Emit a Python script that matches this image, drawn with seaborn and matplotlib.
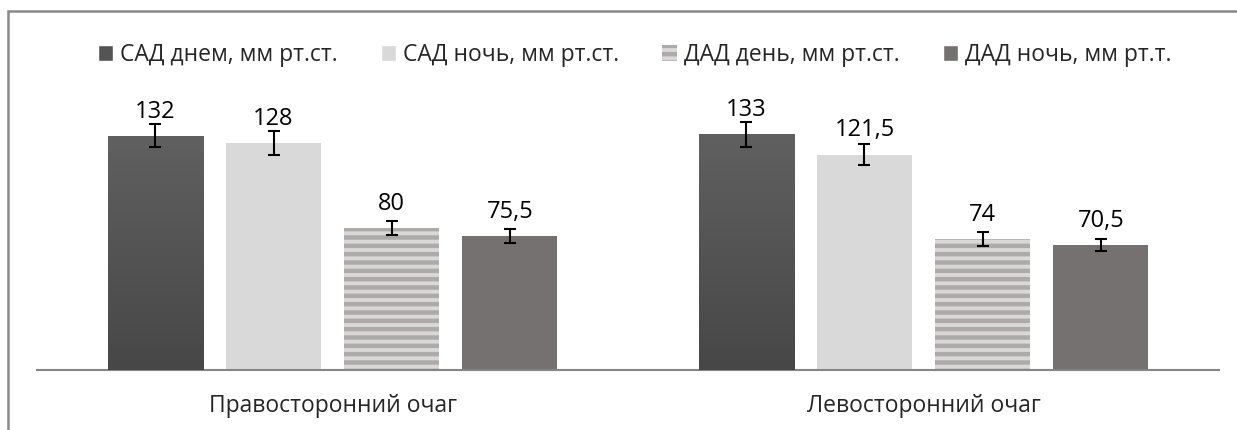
import numpy as np
import pandas as pd
import matplotlib
matplotlib.use("Agg")
import matplotlib.pyplot as plt
import seaborn as sns
from matplotlib.patches import Rectangle, Patch

# данные с графика
groups = ["Правосторонний очаг", "Левосторонний очаг"]
series = ["САД днем, мм рт.ст.", "САД ночь, мм рт.ст.",
          "ДАД день, мм рт.ст.", "ДАД ночь, мм рт.т."]
right_vals = [132, 128, 80, 75.5]
left_vals = [133, 121.5, 74, 70.5]
right_err = [6.5, 6.5, 4, 4]
left_err = [7, 6, 4, 3.5]
labels_right = ["132", "128", "80", "75,5"]
labels_left = ["133", "121,5", "74", "70,5"]

colors = ["#545454", "#d9d9d9", "#d9d9d9", "#767171"]

sns.set_style("white")
plt.rcParams['font.family'] = ['Open Sans', 'DejaVu Sans']
plt.rcParams['hatch.linewidth'] = 3.2

df = pd.DataFrame({
    "group": [groups[0]] * 4 + [groups[1]] * 4,
    "series": series * 2,
    "value": right_vals + left_vals,
    "err": right_err + left_err,
    "label": labels_right + labels_left,
})

fig = plt.figure(figsize=(12.37, 4.30), dpi=100)
ax = fig.add_axes([0.030, 0.1395, 0.9555, 0.66])

sns.barplot(data=df, x="group", y="value", hue="series", order=groups,
            hue_order=series, palette=colors, width=0.8, gap=0.195,
            errorbar=None, saturation=1, legend=False, ax=ax)

# в seaborn патчи идут по hue, потом по группам
patches = [p for p in ax.patches if p.get_height() > 0]
cmap = matplotlib.colors.LinearSegmentedColormap.from_list("g", ["#606060", "#474747"])
for i, p in enumerate(patches):
    s = i // 2
    g = i % 2
    row = df[(df["group"] == groups[g]) & (df["series"] == series[s])].iloc[0]
    cx = p.get_x() + p.get_width() / 2
    top = p.get_height()
    p.set_linewidth(0)
    if s == 2:
        p.set_edgecolor("#aeaaaa")
        p.set_hatch("--")
    if s == 0:
        # лёгкий градиент как в Excel
        grad = np.linspace(0, 1, 100).reshape(-1, 1)
        im = ax.imshow(grad, extent=[p.get_x(), p.get_x() + p.get_width(), 0, top],
                       origin="upper", cmap=cmap, aspect="auto", zorder=3)
        im.set_clip_path(p)
    ax.errorbar(cx, top, yerr=row["err"], fmt="none", ecolor="black",
                elinewidth=1.5, capsize=4.5, capthick=1.5, zorder=5)
    ax.annotate(row["label"], (cx, top), xytext=(0, 13), textcoords="offset points",
                ha="center", va="baseline", fontsize=17, color="black")

ax.set_xlim(-0.5, 1.5)
ax.set_ylim(0, 160)
ax.set_xlabel("")
ax.set_ylabel("")
ax.set_yticks([])
ax.tick_params(axis="x", length=0, pad=17, labelsize=16.5)
for side in ["top", "right", "left"]:
    ax.spines[side].set_visible(False)
ax.spines["bottom"].set_color("#868686")
ax.spines["bottom"].set_linewidth(1.5)

handles = [Patch(facecolor=colors[0]), Patch(facecolor=colors[1]),
           Patch(facecolor=colors[2], edgecolor="#aeaaaa", hatch="--", linewidth=0),
           Patch(facecolor=colors[3])]
fig.legend(handles, series, loc="center", bbox_to_anchor=(0.513, 0.872), ncol=4,
           frameon=False, fontsize=16.5, handlelength=0.65, handleheight=0.65,
           handletextpad=0.3, columnspacing=1.9)

# рамка области диаграммы
fig.patches.append(Rectangle((0.0065, -0.1), 1.2, 1.075, transform=fig.transFigure,
                             fill=False, edgecolor="#898989", linewidth=1.8))

fig.savefig("out.png", dpi=100)
